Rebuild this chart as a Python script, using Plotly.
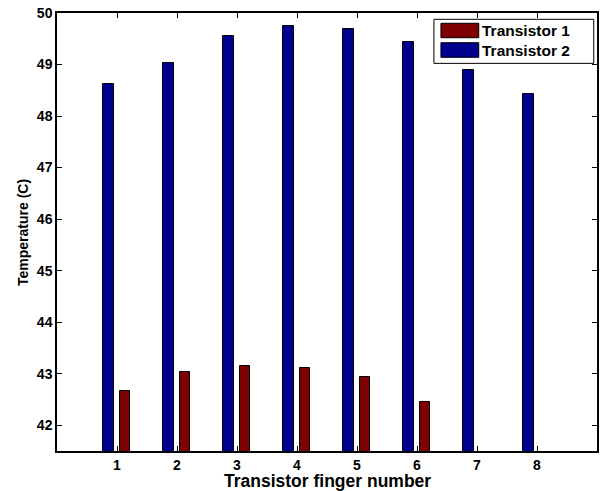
import plotly.graph_objects as go

fingers = [1, 2, 3, 4, 5, 6, 7, 8]
transistor1 = [42.66, 43.04, 43.15, 43.11, 42.93, 42.46, None, None]
transistor2 = [48.63, 49.03, 49.56, 49.74, 49.68, 49.44, 48.89, 48.43]
y_ticks = [42, 43, 44, 45, 46, 47, 48, 49, 50]

BLUE = "#00008F"
RED = "#7F0000"
FONT = "Liberation Sans, Arial, sans-serif"

fig = go.Figure()
fig.add_trace(go.Bar(
    x=fingers, y=transistor2, name="Transistor 2",
    marker=dict(color=BLUE, line=dict(color="black", width=1)),
    width=0.176, offset=-0.232, base=0, showlegend=False,
))
fig.add_trace(go.Bar(
    x=fingers, y=transistor1, name="Transistor 1",
    marker=dict(color=RED, line=dict(color="black", width=1)),
    width=0.168, offset=0.056, base=0, showlegend=False,
))

axis_common = dict(
    showline=True, linecolor="black", linewidth=1.5, mirror="ticks",
    ticks="inside", ticklen=5, tickwidth=1, tickcolor="black",
    showgrid=False, zeroline=False, automargin=False,
    tickfont=dict(family=FONT, size=14, color="black"),
)

fig.update_xaxes(
    range=[0, 9], tickvals=fingers, ticktext=["<b>%d</b>" % f for f in fingers],
    **axis_common,
)
fig.update_yaxes(
    range=[41.5, 50], tickvals=y_ticks, ticktext=["<b>%d</b>" % t for t in y_ticks],
    **axis_common,
)

annotations = [
    dict(xref="paper", yref="paper", x=0.5, y=-0.069, xanchor="center", yanchor="middle",
         showarrow=False, text="<b>Transistor finger number</b>",
         font=dict(family=FONT, size=17.5, color="black")),
    dict(xref="paper", yref="paper", x=-0.063, y=0.5, xanchor="center", yanchor="middle",
         showarrow=False, textangle=-90, text="<b>Temperature (C)</b>",
         font=dict(family=FONT, size=14, color="black")),
]

# Legend drawn in MATLAB style
legend_items = [("Transistor 1", RED), ("Transistor 2", BLUE)]
shapes = [dict(type="rect", xref="paper", yref="paper",
               x0=0.698, x1=0.994, y0=0.885, y1=0.9856,
               line=dict(color="black", width=1), fillcolor="white", layer="above")]
sw_y = [(0.9436, 0.9765), (0.8988, 0.9322)]
for (name, col), (y0, y1) in zip(legend_items, sw_y):
    shapes.append(dict(type="rect", xref="paper", yref="paper",
                       x0=0.711, x1=0.781, y0=y0, y1=y1,
                       line=dict(color="black", width=1), fillcolor=col, layer="above"))
    annotations.append(dict(xref="paper", yref="paper", x=0.783, y=(y0 + y1) / 2,
                            xanchor="left", yanchor="middle", showarrow=False,
                            text="<b>%s</b>" % name,
                            font=dict(family=FONT, size=15.5, color="black")))

fig.update_layout(
    width=602, height=491,
    margin=dict(l=57, r=5, t=13, b=40),
    plot_bgcolor="white", paper_bgcolor="white",
    barmode="overlay", bargap=0,
    shapes=shapes, annotations=annotations,
    showlegend=False,
)

fig.write_html("out.html", config={"responsive": False, "displayModeBar": False},
               post_script="document.body.style.margin='0';document.body.style.padding='0';")
